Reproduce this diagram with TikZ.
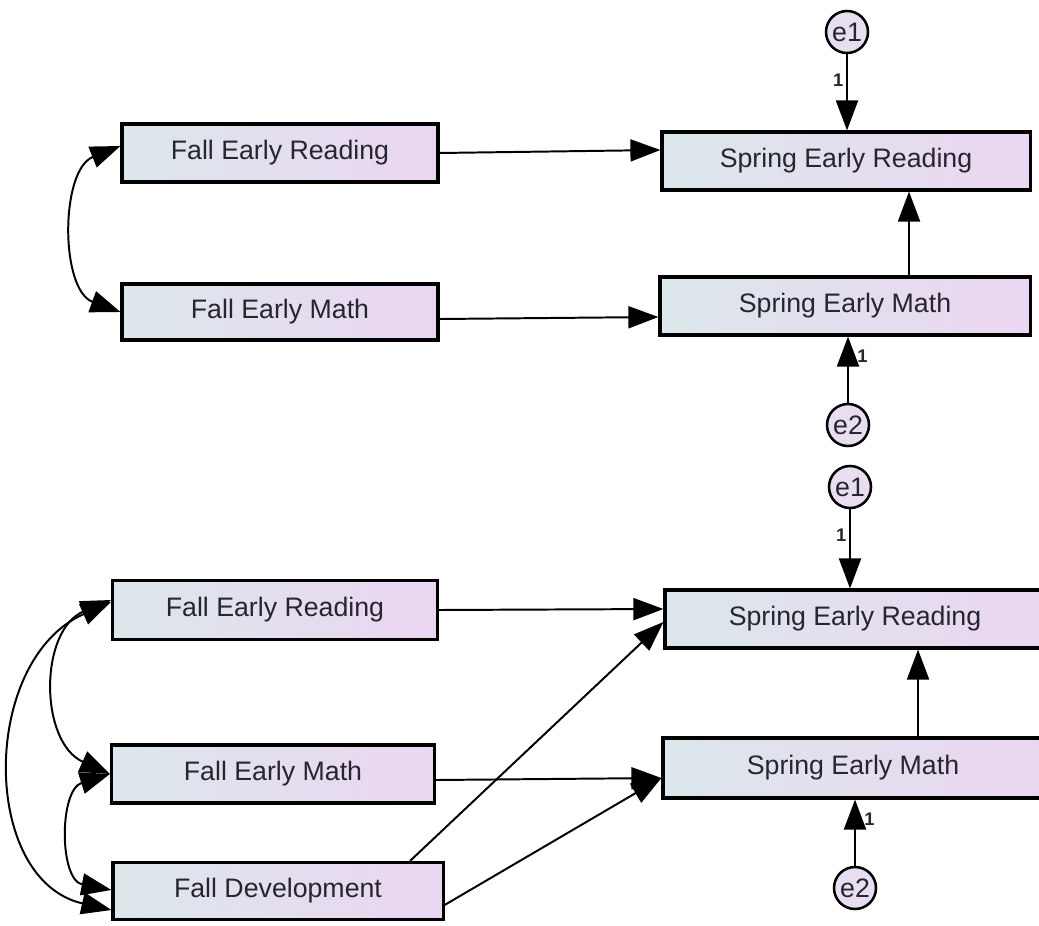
\documentclass[tikz,border=0pt]{standalone}
\usepackage{fontspec}
\setmainfont{Liberation Sans}
\usetikzlibrary{arrows.meta}

\definecolor{boxleft}{HTML}{DCE7EB}
\definecolor{boxright}{HTML}{EBD6F1}
\definecolor{errfill}{HTML}{E8DDF1}
\definecolor{txtgray}{HTML}{26262E}

\tikzset{
  obs/.style={draw, line width=2.2pt, left color=boxleft, right color=boxright, text=txtgray, font=\fontsize{19}{22}\selectfont, inner sep=0pt},
  err/.style={draw, circle, line width=1.8pt, fill=errfill, minimum size=1.05cm, inner sep=0pt, text=txtgray, font=\fontsize{19}{22}\selectfont},
  regpath/.style={line width=1.4pt, -{Triangle[length=0.75cm,width=0.55cm]}},
  cov/.style={line width=1.4pt, {Triangle[length=0.75cm,width=0.55cm]}-{Triangle[length=0.75cm,width=0.55cm]}},
  wt/.style={font=\fontsize{13}{15}\selectfont\bfseries, text=txtgray, inner sep=2pt}
}

\begin{document}
\begin{tikzpicture}[x=0.025cm, y=-0.025cm]
        \useasboundingbox (0,0) rectangle (1039,926);
        % first model
        \node[obs, minimum width=7.9cm, minimum height=1.45cm] (fer1) at (280,153) {Fall Early Reading};
        \node[obs, minimum width=7.9cm, minimum height=1.4cm] (fem1) at (280,312) {Fall Early Math};
        \node[obs, minimum width=9.2cm, minimum height=1.45cm] (ser1) at (846,161) {Spring Early Reading};
        \node[obs, minimum width=9.25cm, minimum height=1.45cm] (sem1) at (845,306) {Spring Early Math};
        \node[err] (ea1) at (847,32) {e1};
        \node[err] (eb1) at (848,425) {e2};
        \draw[regpath] (fer1.east) -- ([yshift=0.275cm]ser1.west);
        \draw[regpath] ([yshift=-0.175cm]fem1.east) -- ([yshift=-0.275cm]sem1.west);
        \draw[regpath] ([xshift=1.6cm]sem1.north) -- ([xshift=1.6cm]sem1.north |- ser1.south);
        \draw[regpath] (ea1) -- (ea1 |- ser1.north) node[wt, pos=0.34, left] {1};
        \draw[regpath] (eb1) -- (eb1 |- sem1.south) node[wt, pos=0.7, right, xshift=4pt] {1};
        \draw[cov] ([yshift=0.175cm]fer1.west) .. controls (60,170) and (60,290) .. (fem1.west);
        % second model, with fall development
        \node[obs, minimum width=8.125cm, minimum height=1.475cm] (fer2) at (275,610) {Fall Early Reading};
        \node[obs, minimum width=8.075cm, minimum height=1.45cm] (fem2) at (273,774) {Fall Early Math};
        \node[obs, minimum width=8.25cm, minimum height=1.425cm] (fd2) at (278,891) {Fall Development};
        \node[obs, minimum width=9.5cm, minimum height=1.45cm] (ser2) at (855,619) {Spring Early Reading};
        \node[obs, minimum width=9.5cm, minimum height=1.5cm] (sem2) at (853,768) {Spring Early Math};
        \node[err] (ea2) at (850,487) {e1};
        \node[err] (eb2) at (855,888) {e2};
        \draw[regpath] (fer2.east) -- ([yshift=0.25cm]ser2.west);
        \draw[regpath] ([xshift=3.3cm]fd2.north) -- ([yshift=-0.075cm]ser2.west);
        \draw[regpath] ([yshift=-0.15cm]fem2.east) -- ([yshift=-0.25cm]sem2.west);
        \draw[regpath] ([yshift=-0.35cm]fd2.east) -- ([yshift=-0.25cm]sem2.west);
        \draw[regpath] ([xshift=1.625cm]sem2.north) -- ([xshift=1.625cm]sem2.north |- ser2.south);
        \draw[regpath] (ea2) -- (ea2 |- ser2.north) node[wt, pos=0.33, left] {1};
        \draw[regpath] (eb2) -- (eb2 |- sem2.south) node[wt, pos=0.7, right, xshift=4pt] {1};
        \draw[cov] ([yshift=0.25cm]fer2.west) .. controls (39,630) and (39,742) .. (fem2.west);
        \draw[cov] (fem2.west) .. controls (59,790) and (59,880) .. ([yshift=0.025cm]fd2.west);
        \draw[cov] ([yshift=0.2cm]fer2.west) .. controls (-20,660) and (-20,880) .. ([yshift=-0.475cm]fd2.west); % outer curve
\end{tikzpicture}
\end{document}
